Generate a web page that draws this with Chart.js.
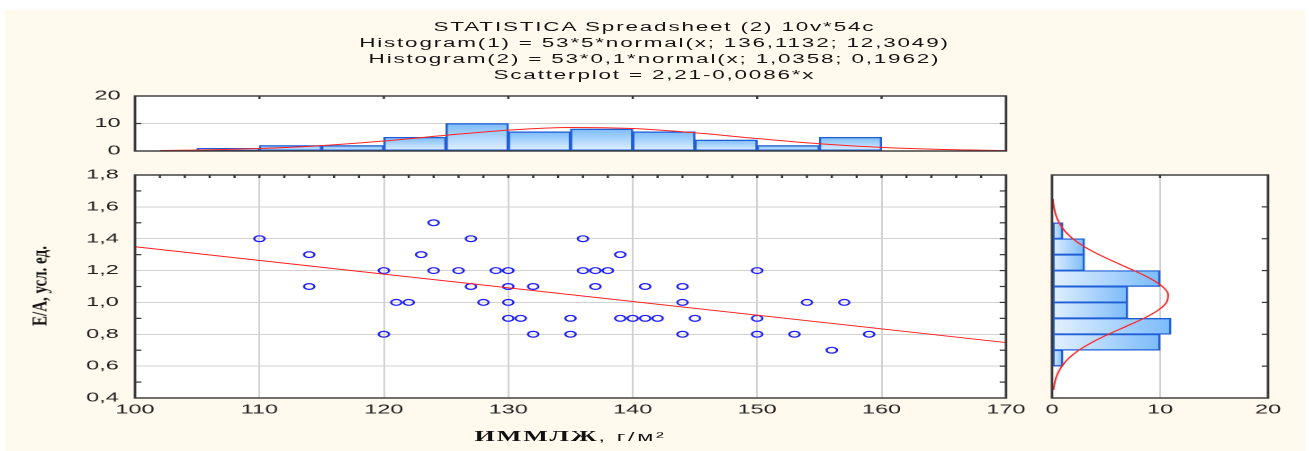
<!DOCTYPE html>
<html>
<head>
<meta charset="utf-8">
<script src="https://cdn.jsdelivr.net/npm/chart.js@4.4.1/dist/chart.umd.min.js"></script>
<style>
html,body{margin:0;padding:0;background:#ffffff;width:1309px;height:451px;overflow:hidden;position:relative;}
#bg{position:absolute;left:5px;top:10px;width:1300px;height:441px;background:#fff9ee;}
#wrap{position:absolute;left:0;top:0;width:727.2px;height:451px;transform:scaleX(1.8);transform-origin:0 0;}
#wrap canvas{position:absolute;left:0;top:0;}
#title{position:absolute;left:0;top:19px;width:100%;text-align:center;font-family:"Liberation Sans",Arial,sans-serif;font-size:12.5px;letter-spacing:1px;line-height:16px;color:#141414;white-space:nowrap;}
#xt{position:absolute;left:75px;width:484px;top:427px;text-align:center;line-height:18px;color:#111;white-space:nowrap;}
#xt .a{font-family:"Liberation Serif","Times New Roman",serif;font-weight:bold;font-size:14.5px;letter-spacing:1px;}
#xt .b{font-family:"Liberation Sans",Arial,sans-serif;font-size:13px;letter-spacing:1.5px;}
#yt{position:absolute;left:40px;top:286px;transform:translate(-50%,-50%) scaleX(1.35) rotate(-90deg);font-family:"Liberation Serif","Times New Roman",serif;font-weight:bold;font-size:15px;color:#111;white-space:nowrap;}
</style>
</head>
<body>
<div id="bg"></div>
<div id="wrap">
  <div id="title">STATISTICA Spreadsheet (2) 10v*54c<br>Histogram(1) = 53*5*normal(x; 136,1132; 12,3049)<br>Histogram(2) = 53*0,1*normal(x; 1,0358; 0,1962)<br>Scatterplot = 2,21-0,0086*x</div>
  <canvas id="cTop" width="727" height="451"></canvas>
  <canvas id="cMain" width="727" height="451"></canvas>
  <canvas id="cRight" width="727" height="451"></canvas>
  <div id="xt"><span class="a">ИММЛЖ</span><span class="b">, г/м²</span></div>
</div>
<div id="yt">E/A, усл. ед.</div>
<script>
// ---------- data ----------
const ptsX = [110,114,114,120,120,121,122,123,124,124,126,127,127,128,129,130,130,130,130,131,132,132,135,135,136,136,137,137,138,139,139,140,141,141,142,144,144,144,145,150,150,150,153,154,156,157,159];
const ptsY = [1.4,1.3,1.1,1.2,0.8,1.0,1.0,1.3,1.5,1.2,1.2,1.4,1.1,1.0,1.2,1.2,1.1,1.0,0.9,0.9,1.1,0.8,0.9,0.8,1.4,1.2,1.2,1.1,1.2,1.3,0.9,0.9,1.1,0.9,0.9,1.1,1.0,0.8,0.9,1.2,0.9,0.8,0.8,1.0,0.7,1.0,0.8];
const regX = [100, 170];
const regY = [1.35, 0.748];

const hist1Centers = [107.5,112.5,117.5,122.5,127.5,132.5,137.5,142.5,147.5,152.5,157.5];
const hist1Counts  = [1,2,2,5,10,7,8,7,4,2,5];
const curve1X = [102,105,110,115,120,125,130,135,140,145,150,155,160,165,170];
const curve1Y = [0.18,0.35,0.90,1.97,3.64,5.71,7.59,8.55,8.17,6.62,4.54,2.64,1.30,0.54,0.19];

const hist2Centers = [0.65,0.75,0.85,0.95,1.05,1.15,1.25,1.35,1.45];
const hist2Counts  = [1,10,11,7,7,10,3,3,1];
const curve2Y = [0.45,0.5,0.55,0.6,0.65,0.7,0.75,0.8,0.85,0.9,0.95,1.0,1.05,1.1,1.15,1.2,1.25,1.3,1.35,1.4,1.45,1.5,1.55,1.6,1.65];
const curve2X = [0.125,0.26,0.50,0.92,1.56,2.49,3.73,5.23,6.88,8.49,9.80,10.60,10.75,10.22,9.10,7.59,5.94,4.35,2.99,1.92,1.16,0.66,0.35,0.17,0.08];

const xTicksMain = [100,110,120,130,140,150,160,170];
const yTicksMain = [0.4,0.6,0.8,1.0,1.2,1.4,1.6,1.8];
const countTicks = [0,10,20];

// ---------- layout (logical px; the page is stretched 1.8x horizontally) ----------
const S = 1.8, W = 727, H = 451;
const mainL = 135 / S, mainR = 1006 / S;
const rightL = 1052 / S, rightR = 1268 / S;

const tickFont = {family: '"Liberation Sans", Arial, sans-serif', size: 13};
const tickColor = '#222';
const gridColor = '#d2d2d2';
const lightBlue = '#e4f1ff', midBlue = '#7cbcfa', barEdge = '#1f5ed6';

const framePlugin = {
  id: 'frame',
  beforeDraw(chart) {
    const {ctx, chartArea: a} = chart;
    ctx.save(); ctx.fillStyle = '#ffffff';
    ctx.fillRect(a.left, a.top, a.right - a.left, a.bottom - a.top);
    ctx.restore();
  },
  afterDraw(chart, args, opts) {
    const {ctx, chartArea: a, scales} = chart;
    ctx.save();
    ctx.strokeStyle = '#353535';
    ctx.lineWidth = 1.2;
    (opts.marks || []).forEach(m => {
      const sc = scales[m.axis];
      m.values.forEach(v => {
        const p = sc.getPixelForValue(v);
        ctx.beginPath();
        if (m.side === 'top') { ctx.moveTo(p, a.top); ctx.lineTo(p, a.top + m.len); }
        else if (m.side === 'bottom') { ctx.moveTo(p, a.bottom); ctx.lineTo(p, a.bottom - m.len); }
        else if (m.side === 'left') { ctx.moveTo(a.left, p); ctx.lineTo(a.left + m.len, p); }
        else { ctx.moveTo(a.right, p); ctx.lineTo(a.right - m.len, p); }
        ctx.stroke();
      });
    });
    ctx.lineWidth = 1.4;
    ctx.strokeRect(a.left, a.top, a.right - a.left, a.bottom - a.top);
    ctx.restore();
  }
};

function range(a, b, step) { const r = []; for (let v = a; v <= b + 1e-9; v += step) r.push(Math.round(v * 1000) / 1000); return r; }

function vGrad(c) {
  if (c.type !== 'data' || !c.parsed) return midBlue;
  const ys = c.chart.scales.y;
  if (!ys) return midBlue;
  const p1 = ys.getPixelForValue(c.parsed.y), p0 = ys.getPixelForValue(0);
  if (!isFinite(p1) || !isFinite(p0) || p1 === p0) return midBlue;
  const g = c.chart.ctx.createLinearGradient(0, p1, 0, p0);
  g.addColorStop(0, midBlue); g.addColorStop(1, lightBlue); return g;
}
function hGrad(c) {
  if (c.type !== 'data' || !c.parsed) return midBlue;
  const xs = c.chart.scales.x;
  if (!xs) return midBlue;
  const p0 = xs.getPixelForValue(0), p1 = xs.getPixelForValue(c.parsed.x);
  if (!isFinite(p1) || !isFinite(p0) || p1 === p0) return midBlue;
  const g = c.chart.ctx.createLinearGradient(p0, 0, p1, 0);
  g.addColorStop(0, lightBlue); g.addColorStop(1, midBlue); return g;
}

const common = {
  responsive: false,
  animation: false,
  devicePixelRatio: 2,
  events: [],
  plugins: {legend: {display: false}, tooltip: {enabled: false}, title: {display: false}}
};

// ---------- top histogram ----------
const topChart = new Chart(document.getElementById('cTop'), {
  type: 'bar',
  plugins: [framePlugin],
  data: {
    datasets: [
      {type: 'line', data: curve1X.map((x, i) => ({x, y: curve1Y[i]})), borderColor: '#ff2424', borderWidth: 1,
       pointRadius: 0, fill: false, cubicInterpolationMode: 'monotone', order: 0},
      {type: 'bar', data: hist1Centers.map((x, i) => ({x, y: hist1Counts[i]})),
       backgroundColor: vGrad,
       borderColor: barEdge, borderWidth: 1.3, borderSkipped: false, barPercentage: 1, categoryPercentage: 1, order: 1}
    ]
  },
  options: Object.assign({}, common, {
    layout: {padding: {left: mainL - 40, right: W - mainR, top: 96, bottom: H - 151}},
    plugins: Object.assign({}, common.plugins, {frame: {marks: [
      {axis: 'x', side: 'top', values: [110,120,130,140,150,160], len: 3},
      {axis: 'y', side: 'left', values: [10], len: 3.5},
      {axis: 'y', side: 'right', values: [10], len: 3.5}
    ]}}),
    scales: {
      x: {type: 'linear', min: 100, max: 170, display: false, offset: false, grid: {offset: false}},
      y: {type: 'linear', min: 0, max: 20, afterFit: s => { s.width = 40; },
          afterBuildTicks: s => { s.ticks = countTicks.map(v => ({value: v})); },
          ticks: {font: tickFont, color: tickColor, padding: 8},
          grid: {color: gridColor, lineWidth: 1, drawTicks: false}, border: {display: false}}
    }
  })
});

// ---------- main scatter ----------
const mainChart = new Chart(document.getElementById('cMain'), {
  type: 'scatter',
  plugins: [framePlugin],
  data: {
    datasets: [
      {type: 'line', data: regX.map((x, i) => ({x, y: regY[i]})), borderColor: '#ff1a1a', borderWidth: 1,
       pointRadius: 0, fill: false, order: 0},
      {type: 'scatter', data: ptsX.map((x, i) => ({x, y: ptsY[i]})), pointStyle: 'circle', pointRadius: 2.9,
       borderColor: '#1c1cff', borderWidth: 1.2, backgroundColor: 'rgba(0,0,0,0)', order: 1}
    ]
  },
  options: Object.assign({}, common, {
    layout: {padding: {left: mainL - 40, right: W - mainR, top: 175, bottom: H - 398 - 30}},
    plugins: Object.assign({}, common.plugins, {frame: {marks: [
      {axis: 'x', side: 'top', values: range(102, 168, 2), len: 3},
      {axis: 'y', side: 'left', values: [0.5,0.7,0.9,1.1,1.3,1.5,1.7], len: 3.5},
      {axis: 'y', side: 'right', values: range(0.5, 1.7, 0.1), len: 3.5}
    ]}}),
    scales: {
      x: {type: 'linear', min: 100, max: 170, afterFit: s => { s.height = 30; },
          afterBuildTicks: s => { s.ticks = xTicksMain.map(v => ({value: v})); },
          ticks: {font: tickFont, color: tickColor, padding: 4},
          grid: {color: gridColor, lineWidth: 1, drawTicks: false}, border: {display: false}},
      y: {type: 'linear', min: 0.4, max: 1.8, afterFit: s => { s.width = 40; },
          afterBuildTicks: s => { s.ticks = yTicksMain.map(v => ({value: v})); },
          ticks: {font: tickFont, color: tickColor, padding: 9, callback: v => Number(v).toFixed(1).replace('.', ',')},
          grid: {color: gridColor, lineWidth: 1, drawTicks: false}, border: {display: false}}
    }
  })
});

// ---------- right histogram ----------
const rightChart = new Chart(document.getElementById('cRight'), {
  type: 'bar',
  plugins: [framePlugin],
  data: {
    datasets: [
      {type: 'line', indexAxis: 'y', data: curve2X.map((x, i) => ({x, y: curve2Y[i]})), borderColor: '#ff2424', borderWidth: 1,
       pointRadius: 0, fill: false, cubicInterpolationMode: 'monotone', order: 0},
      {type: 'bar', indexAxis: 'y', data: hist2Centers.map((y, i) => ({x: hist2Counts[i], y})),
       backgroundColor: hGrad,
       borderColor: barEdge, borderWidth: 1.3, borderSkipped: false, barPercentage: 1, categoryPercentage: 1, order: 1}
    ]
  },
  options: Object.assign({}, common, {
    indexAxis: 'y',
    layout: {padding: {left: rightL, right: W - rightR, top: 175, bottom: H - 398 - 30}},
    plugins: Object.assign({}, common.plugins, {frame: {marks: [
      {axis: 'x', side: 'top', values: [10], len: 3},
      {axis: 'y', side: 'right', values: [0.6,0.8,1.0,1.2,1.4,1.6], len: 3.5}
    ]}}),
    scales: {
      x: {type: 'linear', position: 'bottom', min: 0, max: 20, offset: false, afterFit: s => { s.height = 30; },
          afterBuildTicks: s => { s.ticks = countTicks.map(v => ({value: v})); },
          ticks: {font: tickFont, color: tickColor, padding: 4},
          grid: {color: gridColor, lineWidth: 1, drawTicks: false, offset: false}, border: {display: false}},
      y: {type: 'linear', min: 0.4, max: 1.8, display: false, offset: false, grid: {offset: false}}
    }
  })
});
// re-render once so that scriptable gradients resolve against laid-out scales
[topChart, rightChart].forEach(c => c.update('none'));
</script>
</body>
</html>
